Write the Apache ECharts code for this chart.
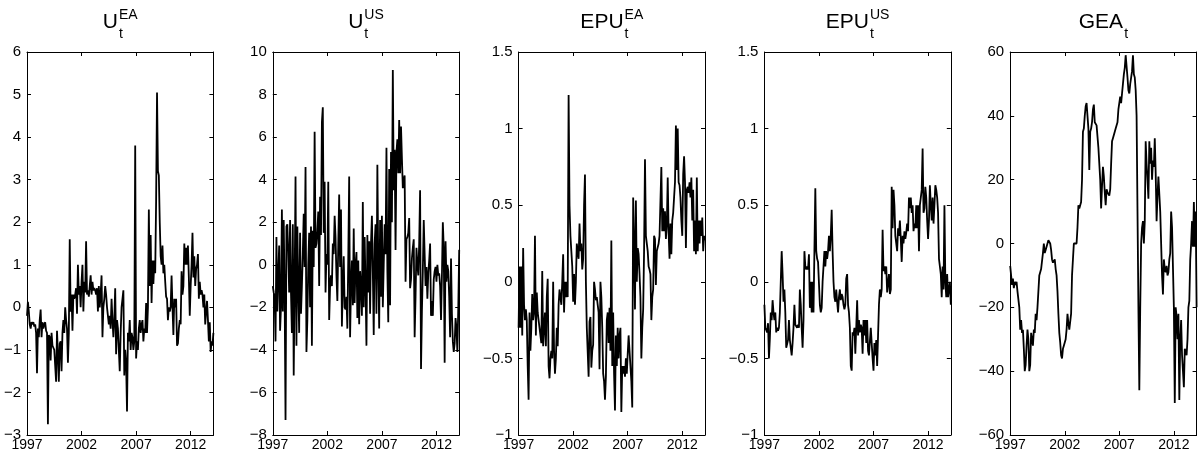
<!DOCTYPE html>
<html><head><meta charset="utf-8">
<script src="https://cdn.jsdelivr.net/npm/echarts@6/dist/echarts.min.js"></script>
<style>html,body{margin:0;padding:0;background:#fff}#c{width:1198px;height:457px}</style>
</head><body><div id="c"></div>
<script>
// ---------------- data (monthly, Jan 1997 .. Feb 2014) ----------------
const startYear = 1997;
const xTickYears = [1997, 2002, 2007, 2012];

const uEA = [
 -0.2,0.13,-0.1,-0.4,-0.5,-0.35,-0.4,-0.35,-0.45,-0.4,-0.6,-1.55,
 -0.5,-0.7,-0.3,-0.05,-0.7,-0.35,-0.5,-0.4,-0.35,-0.55,-0.6,-2.75,
 -0.65,-0.7,-1.25,-0.6,-0.9,-0.95,-1.0,-1.0,-1.75,-0.55,-1.1,-1.75,
 -0.85,-0.8,-1.5,-0.6,-0.3,-0.6,0.0,-0.3,-0.5,-1.3,-0.6,1.6,
 -0.1,0.3,-0.55,0.3,0.2,0.3,0.45,-0.15,1.0,0.3,0.5,0.0,
 0.6,1.0,-0.1,0.6,0.35,1.55,0.3,0.4,0.25,0.5,0.75,0.3,
 0.6,0.4,0.45,0.4,0.3,0.45,-0.1,0.5,0.0,0.3,0.75,-0.7,
 0.0,0.2,0.5,0.3,0.0,-0.2,-0.4,-0.2,-0.5,0.2,-0.3,-0.7,
 -0.3,0.45,-1.1,-0.3,-0.5,-1.0,-1.5,-0.6,0.0,0.2,0.4,-1.6,
 -1.0,-1.3,-2.45,-0.6,-0.8,-0.3,-1.0,-0.6,-0.7,-1.0,-0.8,3.8,
 -1.2,-0.8,-1.0,-0.5,-0.3,-0.6,-0.4,-0.3,-0.8,-0.5,-0.6,0.1,
 -0.6,0.0,2.3,0.5,1.7,0.1,1.1,0.55,1.1,0.8,2.5,5.05,
 3.2,3.1,2.0,1.2,1.0,1.45,0.8,1.0,0.6,0.25,0.2,-0.3,
 0.0,-0.1,0.0,0.75,0.0,-0.65,0.2,0.0,0.2,-0.9,-0.85,-0.5,
 -0.3,-0.4,0.85,0.3,0.5,1.5,1.0,1.4,1.0,1.45,0.7,-0.2,
 0.5,1.0,1.75,0.7,1.2,0.5,0.9,1.0,1.25,0.2,0.6,0.3,
 0.4,0.3,0.0,0.3,-0.4,-0.1,0.15,-0.3,-0.8,-0.35,-1.05,-0.8,
 -0.9,-0.6
];

const uUS = [
 -1.0,-1.3,-1.5,-3.6,1.3,-2.2,-0.5,0.9,-3.1,-2.0,2.6,-2.2,
 2.1,-1.3,-7.3,1.8,1.9,0.5,-1.3,2.1,-1.3,-3.2,1.9,-5.2,
 -1.0,4.15,-3.8,1.8,-1.0,-3.2,1.5,-2.3,-1.0,0.5,2.4,-0.1,
 4.6,-4.1,-2.6,0.0,1.5,-2.0,1.8,-3.8,1.6,-0.1,6.25,0.8,
 1.0,1.6,2.5,-1.0,3.2,1.4,6.7,7.4,1.5,3.9,-1.3,0.5,
 0.0,3.9,-2.6,-1.0,-0.5,-1.0,1.0,0.5,2.3,1.3,-0.5,-1.7,
 1.0,3.3,-0.1,2.6,-2.9,-1.0,0.4,-2.0,-2.1,-1.5,-3.0,0.3,
 4.15,-3.4,-1.0,0.2,-1.9,1.7,-1.8,0.0,0.6,-2.5,0.2,-2.8,
 -0.3,-1.0,-2.4,2.95,-2.0,1.3,-1.0,-3.8,1.4,-1.3,1.1,-2.3,
 1.0,2.3,-0.3,-3.3,1.0,1.9,-2.3,4.7,0.0,-3.0,2.1,-1.5,
 2.3,-2.0,0.0,1.9,0.5,5.5,-0.3,-2.7,4.5,-1.9,5.3,2.0,
 9.15,3.5,5.4,0.7,5.3,5.9,4.3,6.8,4.3,6.5,5.0,3.6,
 4.0,4.2,-0.8,1.2,1.3,1.5,2.2,-1.1,-0.7,0.3,0.8,1.2,
 -3.4,-1.5,0.8,0.0,-0.5,1.0,3.5,-4.9,-2.2,-0.3,2.1,0.5,
 -1.0,-0.1,-1.6,-0.4,0.2,1.0,-2.4,-1.7,-2.4,-0.7,-0.3,-0.1,
 -0.8,0.0,-0.5,-0.4,-1.0,-2.6,-0.5,2.0,0.8,-4.6,1.1,-0.8,
 0.0,-0.3,-1.5,-3.4,0.3,-2.3,-3.6,-4.1,-3.7,-2.5,-3.0,-4.1,
 -2.0,0.7
];

const epuEA = [
 -0.3,0.1,-0.3,0.1,-0.35,0.22,-0.15,-0.25,-0.18,-0.25,-0.55,-0.77,
 -0.2,-0.45,-0.3,-0.08,-0.25,-0.2,0.3,-0.35,-0.07,-0.2,-0.25,-0.25,
 -0.26,-0.4,0.07,-0.42,-0.3,-0.2,-0.42,-0.1,0.02,-0.55,-0.63,-0.5,
 -0.45,-0.5,0.0,-0.45,-0.6,-0.5,-0.3,-0.42,-0.15,-0.05,-0.1,-0.15,
 0.0,0.18,-0.2,0.0,-0.1,0.0,-0.1,1.22,0.5,0.3,0.2,0.1,
 -0.13,0.05,-0.15,0.0,0.25,0.2,0.15,0.38,0.2,0.25,0.08,0.15,
 0.5,0.7,0.0,-0.3,-0.3,-0.62,-0.26,-0.23,-0.56,-0.45,-0.41,0.0,
 -0.05,-0.12,-0.1,-0.15,-0.2,-0.57,0.0,-0.1,-0.3,-0.6,-0.65,-0.77,
 -0.62,-0.25,-0.2,-0.4,-0.17,-0.45,0.27,-0.55,-0.2,-0.6,-0.84,-0.35,
 -0.55,-0.3,-0.5,-0.35,-0.3,-0.85,-0.55,-0.6,-0.55,-0.62,-0.5,-0.6,
 -0.47,-0.35,-0.45,-0.55,-0.65,-0.82,0.55,0.25,-0.18,0.53,0.0,0.22,
 0.18,0.05,-0.1,-0.5,-0.3,-0.18,0.2,0.8,0.3,0.3,0.2,0.1,
 0.08,0.05,-0.25,-0.1,-0.05,0.3,0.28,-0.02,0.2,0.2,0.25,0.3,
 0.3,0.75,0.33,0.48,0.33,0.46,0.28,0.37,0.68,0.32,0.15,0.38,
 0.18,0.4,0.45,0.55,0.65,1.02,0.73,1.0,0.65,0.63,0.55,0.4,
 0.3,0.7,0.82,0.65,0.22,0.6,0.62,0.58,0.65,0.55,0.68,0.4,
 0.6,0.2,0.4,0.18,0.68,0.2,0.4,0.25,0.4,0.3,0.42,0.2,
 0.3,0.27
];

const epuUS = [
 -0.15,-0.3,-0.3,-0.33,-0.27,-0.5,-0.37,-0.2,-0.25,-0.12,-0.2,-0.25,
 -0.2,-0.33,-0.3,-0.32,-0.3,-0.2,0.0,0.2,0.05,-0.13,-0.05,-0.2,
 -0.43,-0.43,-0.38,-0.25,-0.38,-0.38,-0.48,-0.4,-0.3,-0.15,-0.28,-0.28,
 -0.3,-0.28,-0.3,-0.05,-0.15,-0.3,-0.43,-0.25,0.2,0.1,0.08,0.1,
 0.08,0.18,-0.17,0.0,-0.2,0.0,-0.2,0.2,0.61,0.2,0.15,0.13,
 0.13,-0.15,-0.2,-0.17,0.0,0.1,0.2,0.1,0.2,0.15,0.2,0.3,
 0.2,0.3,0.47,0.2,0.0,-0.1,-0.13,-0.05,-0.13,-0.2,-0.1,-0.05,
 -0.12,-0.08,-0.1,-0.15,-0.18,-0.15,0.02,0.05,-0.15,-0.2,-0.3,-0.55,
 -0.58,-0.33,-0.35,-0.3,-0.47,-0.3,-0.12,-0.35,-0.25,-0.33,-0.28,-0.3,
 -0.47,-0.25,-0.35,-0.25,-0.4,-0.25,-0.45,-0.48,-0.48,-0.3,-0.4,-0.5,
 -0.58,-0.4,-0.48,-0.38,-0.55,-0.35,-0.15,-0.05,-0.1,-0.05,0.34,0.07,
 0.1,0.05,0.1,-0.07,-0.08,0.05,-0.08,-0.05,0.62,0.35,0.6,0.5,
 0.3,0.25,0.2,0.35,0.3,0.4,0.28,0.13,0.3,0.25,0.33,0.28,
 0.32,0.38,0.33,0.55,0.48,0.55,0.45,0.5,0.33,0.38,0.35,0.5,
 0.35,0.5,0.2,0.5,0.55,0.6,0.87,0.45,0.48,0.62,0.55,0.4,
 0.28,0.4,0.63,0.5,0.4,0.55,0.38,0.5,0.63,0.6,0.55,0.45,
 0.15,0.1,0.05,-0.1,0.1,-0.05,0.5,0.0,-0.1,0.05,-0.1,-0.05,
 0.0,-0.15
];

const gea = [
 -7,-10,-13,-11,-14,-12,-13,-12,-15,-15,-20,-27,
 -24,-28,-27,-33,-40,-38,-32,-27,-30,-40,-38,-28,
 -28,-32,-27,-28,-22,-24,-20,-15,-10,-9,-8,-8,
 -3,0,-3,-2,-1,0,1,1.5,0,-2,-5,-6,
 -6,-5,-8,-10,-15,-22,-28,-31,-35,-36,-33,-32,
 -32,-30,-27,-22,-25,-27,-27,-22,-10,-5,0,0.5,
 0.5,0,5,12,11,12,13,20,35,36,40,43,
 44,40,36,23,35,36,38,42,43.5,38,38,37,
 37,30,25,20,11,18,24,21,16,12,17,16,
 16,15,17,25,32,33,33,35,36,36,38,42,
 42,46,44,47,50,53,55,59,59,52,48,47,
 50,52,54,59,53,52,48,40,10,-20,-46,-20,
 0,5,7,0,7,32,25,20,14,32,25,30,
 20,26,24,33,22,7,15,21,21,10,0,-10,
 -16,-5,-8,-9,-7,-10,-9,-5,-3,10,5,5,
 -20,-50,-20,-23,-30,-22,-49,-30,-24,-35,-40,-45,
 -33,-34,-35,-30,-20,-18,-5,0,7,-1,13,-1,
 10,-20
];

// titles: main text, superscript, subscript
const titleMain = ['U', 'U', 'EPU', 'EPU', 'GEA'];
const titleSup  = ['EA', 'US', 'EA', 'US', ''];
const titleSub  = ['t', 't', 't', 't', 't'];
const seriesList = [uEA, uUS, epuEA, epuUS, gea];
const yMin = [-3, -8, -1, -1, -60];
const yMax = [6, 10, 1.5, 1.5, 60];
const yStep = [1, 2, 0.5, 0.5, 20];

// ---------------- layout ----------------
const gridTop = 52, gridH = 383, gridW = 186.4, firstLeft = 27, pitch = 245.8;
const xMax = startYear + (uEA.length - 1) / 12;
const BLACK = '#000';
const fontFam = '"Liberation Sans", Arial, Helvetica, sans-serif';
const fontNarrow = '"Liberation Sans Narrow", "Liberation Sans", Arial, sans-serif';

const mc = document.createElement('canvas').getContext('2d');
function textW(t, font) { mc.font = font; return mc.measureText(t).width; }
const mainFont = '21px ' + fontFam;
const scriptFont = '14px ' + fontFam;

const minus = v => String(v).replace('-', '\u2212');

const grids = [], xAxes = [], yAxes = [], series = [], graphics = [];
seriesList.forEach((vals, k) => {
  const left = firstLeft + k * pitch;
  grids.push({ left: left, top: gridTop, width: gridW, height: gridH, containLabel: false });
  const lineStyle = { color: BLACK, width: 1 };
  const tick = { show: true, inside: true, length: 4, lineStyle: { color: BLACK, width: 1 } };
  xAxes.push({
    type: 'value', gridIndex: k, position: 'bottom', min: startYear, max: xMax, interval: 5,
    axisLine: { show: true, onZero: false, lineStyle },
    axisTick: tick,
    splitLine: { show: false },
    axisLabel: {
      show: true, color: BLACK, fontSize: 14, fontFamily: fontNarrow, margin: 3,
      showMaxLabel: false,
      formatter: v => (xTickYears.indexOf(Math.round(v)) >= 0 && Math.abs(v - Math.round(v)) < 1e-6) ? String(Math.round(v)) : ''
    }
  });
  xAxes.push({
    type: 'value', gridIndex: k, position: 'top', min: startYear, max: xMax, interval: 5,
    axisLine: { show: true, onZero: false, lineStyle },
    axisTick: tick, splitLine: { show: false }, axisLabel: { show: false }
  });
  yAxes.push({
    type: 'value', gridIndex: k, position: 'left', min: yMin[k], max: yMax[k], interval: yStep[k],
    axisLine: { show: true, onZero: false, lineStyle },
    axisTick: tick, splitLine: { show: false },
    axisLabel: { show: true, color: BLACK, fontSize: 15, fontFamily: fontFam, margin: 6, formatter: minus }
  });
  yAxes.push({
    type: 'value', gridIndex: k, position: 'right', min: yMin[k], max: yMax[k], interval: yStep[k],
    axisLine: { show: true, onZero: false, lineStyle },
    axisTick: tick, splitLine: { show: false }, axisLabel: { show: false }
  });
  series.push({
    type: 'line', xAxisIndex: 2 * k, yAxisIndex: 2 * k,
    data: vals.map((v, i) => [startYear + i / 12, v]),
    showSymbol: false, symbol: 'none', clip: true,
    lineStyle: { color: BLACK, width: 1.8 },
    emphasis: { disabled: true }
  });

  // title with stacked super/subscript
  const cx = left + gridW / 2;
  const wM = textW(titleMain[k], mainFont);
  const wS = Math.max(textW(titleSup[k], scriptFont), textW(titleSub[k], scriptFont));
  const total = wM + 1 + wS;
  const x0 = cx - total / 2;
  graphics.push({ type: 'text', x: x0, y: 22.5, silent: true,
    style: { text: titleMain[k], font: mainFont, fill: BLACK, align: 'left', verticalAlign: 'middle', textAlign: 'left', textVerticalAlign: 'middle' } });
  if (titleSup[k]) graphics.push({ type: 'text', x: x0 + wM + 1, y: 15, silent: true,
    style: { text: titleSup[k], font: scriptFont, fill: BLACK, align: 'left', verticalAlign: 'middle', textAlign: 'left', textVerticalAlign: 'middle' } });
  graphics.push({ type: 'text', x: x0 + wM + 1, y: 34, silent: true,
    style: { text: titleSub[k], font: scriptFont, fill: BLACK, align: 'left', verticalAlign: 'middle', textAlign: 'left', textVerticalAlign: 'middle' } });
});

const chart = echarts.init(document.getElementById('c'), null, { renderer: 'canvas' });
chart.setOption({
  backgroundColor: '#fff',
  animation: false,
  grid: grids,
  xAxis: xAxes,
  yAxis: yAxes,
  series: series,
  graphic: graphics
});
</script></body></html>
